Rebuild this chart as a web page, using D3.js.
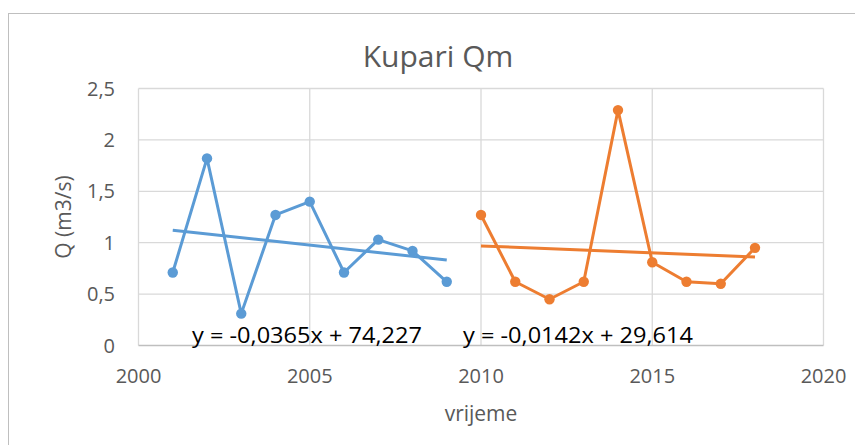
<!DOCTYPE html>
<html>
<head>
<meta charset="utf-8">
<script src="https://cdn.jsdelivr.net/npm/d3@7"></script>
<style>
  body { margin: 0; background: #fff; }
  svg { display: block; font-family: "Open Sans", "Liberation Sans", Arial, sans-serif; }
</style>
</head>
<body>
<svg id="chart" width="855" height="445"></svg>
<script>
// Kupari Qm - two periods with linear trend lines

const years1 = [2001, 2002, 2003, 2004, 2005, 2006, 2007, 2008, 2009];
const q1 = [0.71, 1.82, 0.31, 1.27, 1.40, 0.71, 1.03, 0.92, 0.62];
const years2 = [2010, 2011, 2012, 2013, 2014, 2015, 2016, 2017, 2018];
const q2 = [1.27, 0.62, 0.45, 0.62, 2.29, 0.81, 0.62, 0.60, 0.95];

const xTicks = [2000, 2005, 2010, 2015, 2020];
const yTicks = [0, 0.5, 1, 1.5, 2, 2.5];
const eq1 = 'y = -0,0365x + 74,227';
const eq2 = 'y = -0,0142x + 29,614';

const svg = d3.select('#chart');

const plot = { left: 138.5, right: 823.5, top: 88.5, bottom: 345.5 };

const x = d3.scaleLinear().domain([2000, 2020]).range([plot.left, plot.right]);
const y = d3.scaleLinear().domain([0, 2.5]).range([plot.bottom, plot.top]);

const fmt = v => String(v).replace('.', ',');

// outer chart border
svg.append('rect')
    .attr('x', 8.5).attr('y', 13.5)
    .attr('width', 900).attr('height', 500)
    .attr('fill', 'none')
    .attr('stroke', '#bfbfbf')
    .attr('stroke-width', 1);

// title
svg.append('text')
    .attr('x', 438).attr('y', 67)
    .attr('text-anchor', 'middle')
    .attr('fill', '#595959')
    .attr('font-size', '30px')
    .text('Kupari Qm');

// gridlines
svg.append('g')
    .selectAll('line')
    .data(yTicks.filter(d => d > 0))
    .enter()
    .append('line')
    .attr('x1', plot.left).attr('x2', plot.right)
    .attr('y1', d => y(d)).attr('y2', d => y(d))
    .attr('stroke', '#d9d9d9')
    .attr('stroke-width', 1.3);

svg.append('g')
    .selectAll('line')
    .data(xTicks)
    .enter()
    .append('line')
    .attr('x1', d => x(d)).attr('x2', d => x(d))
    .attr('y1', plot.top).attr('y2', plot.bottom)
    .attr('stroke', '#d9d9d9')
    .attr('stroke-width', 1.3);

// x axis line
svg.append('line')
    .attr('x1', plot.left).attr('x2', plot.right)
    .attr('y1', plot.bottom).attr('y2', plot.bottom)
    .attr('stroke', '#bfbfbf')
    .attr('stroke-width', 1.3);

// tick labels
svg.append('g')
    .selectAll('text')
    .data(yTicks)
    .enter()
    .append('text')
    .attr('x', 115)
    .attr('y', d => y(d) + 7)
    .attr('text-anchor', 'end')
    .attr('fill', '#595959')
    .attr('font-size', '20px')
    .text(d => fmt(d));

svg.append('g')
    .selectAll('text')
    .data(xTicks)
    .enter()
    .append('text')
    .attr('x', d => x(d))
    .attr('y', 383)
    .attr('text-anchor', 'middle')
    .attr('fill', '#595959')
    .attr('font-size', '20px')
    .text(d => d);

// axis titles
svg.append('text')
    .attr('x', (plot.left + plot.right) / 2)
    .attr('y', 421)
    .attr('text-anchor', 'middle')
    .attr('fill', '#595959')
    .attr('font-size', '21px')
    .text('vrijeme');

svg.append('text')
    .attr('transform', `translate(71,${(plot.top + plot.bottom) / 2}) rotate(-90)`)
    .attr('text-anchor', 'middle')
    .attr('fill', '#595959')
    .attr('font-size', '21px')
    .text('Q (m3/s)');

// least squares trend over a series
function trend(xs, ys) {
    const mx = d3.mean(xs), my = d3.mean(ys);
    const sxy = d3.sum(xs, (v, i) => (v - mx) * (ys[i] - my));
    const sxx = d3.sum(xs, v => (v - mx) * (v - mx));
    const b = sxy / sxx;
    const a = my - b * mx;
    const x0 = xs[0], x1 = xs[xs.length - 1];
    return [[x0, a + b * x0], [x1, a + b * x1]];
}

const line = d3.line().x(d => x(d[0])).y(d => y(d[1]));

function drawSeries(xs, ys, color) {
    const pts = xs.map((v, i) => [v, ys[i]]);
    svg.append('path')
        .datum(pts)
        .attr('d', line)
        .attr('fill', 'none')
        .attr('stroke', color)
        .attr('stroke-width', 3)
        .attr('stroke-linejoin', 'round');
    svg.append('g')
        .selectAll('circle')
        .data(pts)
        .enter()
        .append('circle')
        .attr('cx', d => x(d[0]))
        .attr('cy', d => y(d[1]))
        .attr('r', 5.2)
        .attr('fill', color);
    svg.append('path')
        .datum(trend(xs, ys))
        .attr('d', line)
        .attr('fill', 'none')
        .attr('stroke', color)
        .attr('stroke-width', 3);
}

drawSeries(years1, q1, '#5b9bd5');
drawSeries(years2, q2, '#ed7d31');

// trend equations
svg.append('text')
    .attr('x', 192).attr('y', 343)
    .attr('fill', '#000')
    .attr('font-size', '22px')
    .attr('textLength', 230)
    .attr('lengthAdjust', 'spacingAndGlyphs')
    .text(eq1);

svg.append('text')
    .attr('x', 463).attr('y', 343)
    .attr('fill', '#000')
    .attr('font-size', '22px')
    .attr('textLength', 230)
    .attr('lengthAdjust', 'spacingAndGlyphs')
    .text(eq2);
</script>
</body>
</html>
